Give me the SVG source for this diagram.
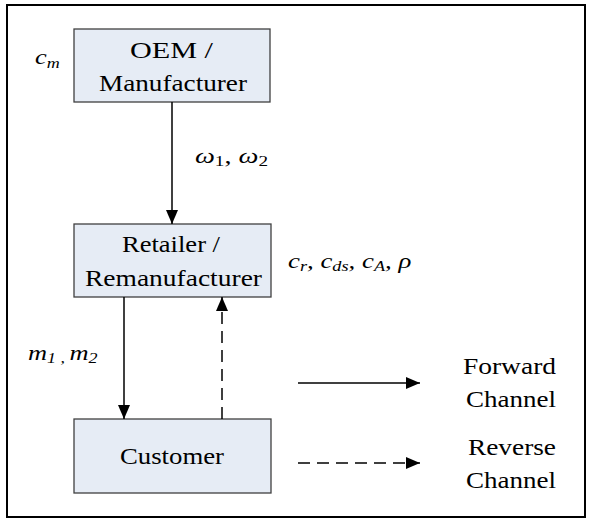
<svg xmlns="http://www.w3.org/2000/svg" width="589" height="520" viewBox="0 0 589 520">
<defs>
<marker id="ah" viewBox="0 0 14 12" refX="14" refY="6" markerWidth="14" markerHeight="12" markerUnits="userSpaceOnUse" orient="auto">
<path d="M0,0 L14,6 L0,12 z" fill="#000"/>
</marker>
<style>
.box{fill:#E6ECF5;stroke:#404040;stroke-width:1.3}
text{font-family:'Liberation Serif','Times New Roman',Tinos,serif}
.t{font-size:24px;fill:#000}
.i{font-size:22px;font-style:italic;fill:#000}
.u{font-size:22px;fill:#000}
.ln{stroke:#000;stroke-width:1.5;fill:none;marker-end:url(#ah)}
.d{stroke-dasharray:12 7}
</style>
</defs>
<rect x="7" y="5" width="578" height="512" fill="#fff" stroke="#000" stroke-width="2"/>
<g id="oem">
<rect class="box" x="74" y="29" width="196" height="73"/>
<text class="t" x="130" y="58" textLength="83" lengthAdjust="spacingAndGlyphs">OEM /</text>
<text class="t" x="99" y="91" textLength="148" lengthAdjust="spacingAndGlyphs">Manufacturer</text>
</g>
<g id="retailer">
<rect class="box" x="74" y="224" width="197" height="73"/>
<text class="t" x="122" y="252" textLength="98" lengthAdjust="spacingAndGlyphs">Retailer /</text>
<text class="t" x="85" y="286" textLength="177" lengthAdjust="spacingAndGlyphs">Remanufacturer</text>
</g>
<g id="customer">
<rect class="box" x="74" y="419" width="197" height="74"/>
<text class="t" x="120" y="464" textLength="104" lengthAdjust="spacingAndGlyphs">Customer</text>
</g>
<g id="connectors">
<line class="ln" x1="172" y1="102" x2="172" y2="224"/>
<line class="ln" x1="124" y1="297" x2="124" y2="419"/>
<line class="ln d" x1="222" y1="419" x2="222" y2="297"/>
<line class="ln" x1="298" y1="383" x2="420" y2="383"/>
<line class="ln d" x1="298" y1="463" x2="420" y2="463"/>
</g>
<g id="labels">
<text class="i" transform="translate(35,64) scale(1.2,1)">c<tspan font-size="15" dy="4">m</tspan></text>
<text class="u" transform="translate(195,163) scale(1.28,1)"><tspan font-style="italic">ω</tspan><tspan font-size="15" dy="3">1</tspan><tspan dy="-3">, </tspan><tspan font-style="italic">ω</tspan><tspan font-size="15" dy="3">2</tspan></text>
<text class="i" transform="translate(288,268) scale(1.22,1)">c<tspan font-size="15" dy="3">r</tspan><tspan dy="-3">, c</tspan><tspan font-size="15" dy="3">ds</tspan><tspan dy="-3">, c</tspan><tspan font-size="15" dy="3">A</tspan><tspan dy="-3">, ρ</tspan></text>
<text class="i" transform="translate(28,360) scale(1.2,1)">m<tspan font-size="15" dy="3">1</tspan><tspan font-size="15" dy="0"> , </tspan><tspan dy="-3">m</tspan><tspan font-size="15" dy="3">2</tspan></text>
<text class="t" x="463" y="374" textLength="93" lengthAdjust="spacingAndGlyphs">Forward</text>
<text class="t" x="466" y="407" textLength="90" lengthAdjust="spacingAndGlyphs">Channel</text>
<text class="t" x="468" y="455" textLength="88" lengthAdjust="spacingAndGlyphs">Reverse</text>
<text class="t" x="466" y="488" textLength="90" lengthAdjust="spacingAndGlyphs">Channel</text>
</g>
</svg>
